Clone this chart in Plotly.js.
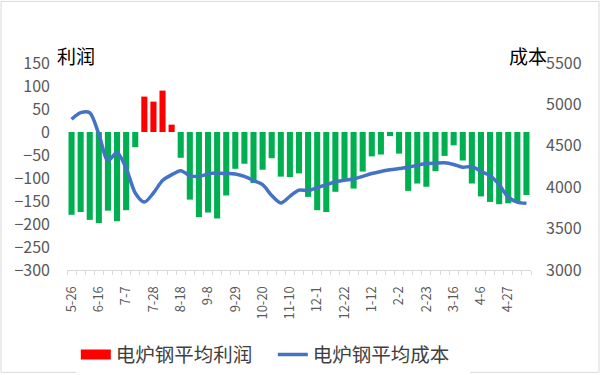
<!DOCTYPE html>
<html>
<head>
<meta charset="utf-8">
<script src="https://cdn.plot.ly/plotly-3.0.1.min.js"></script>
<style>
html,body{margin:0;padding:0;background:#fff;}
#chart{width:601px;height:375px;}
</style>
</head>
<body>
<div id="chart"></div>
<script>
// Weekly dates (category labels)
const dates = ["5-26","6-2","6-9","6-16","6-23","6-30","7-7","7-14","7-21","7-28",
  "8-4","8-11","8-18","8-25","9-1","9-8","9-15","9-22","9-29","10-6",
  "10-13","10-20","10-27","11-3","11-10","11-17","11-24","12-1","12-8","12-15",
  "12-22","12-29","1-5","1-12","1-19","1-26","2-2","2-9","2-16","2-23",
  "3-2","3-9","3-16","3-23","3-30","4-6","4-13","4-20","4-27","5-4","5-11"];

// 电炉钢平均利润 (left axis)
const profit = [-180,-174,-191,-198,-171,-194,-170,-33,77,66,
  90,16,-56,-147,-185,-175,-188,-138,-80,-69,
  -111,-82,-57,-97,-98,-90,-141,-170,-174,-130,
  -102,-123,-86,-53,-49,-9,-47,-128,-112,-119,
  -85,-52,-29,-62,-112,-140,-152,-157,-155,-154,-137];

// 电炉钢平均成本 (right axis)
const cost = [4820,4900,4900,4640,4320,4420,4230,3930,3820,3930,
  4080,4150,4200,4140,4130,4160,4170,4165,4160,4130,
  4080,4030,3900,3810,3890,3965,3960,3995,4030,4065,
  4085,4100,4130,4165,4190,4210,4225,4240,4265,4285,
  4290,4295,4275,4240,4250,4190,4140,4030,3880,3820,3805];

const seriesNames = ["电炉钢平均利润","电炉钢平均成本"];
const axisTitles = ["利润","成本"];

const idx = dates.map((d,i)=>i);
const tickIdx = idx.filter(i => i % 3 === 0 && i <= 48);
const tickText = tickIdx.map(i => dates[i]);

const FONT = '"Noto Sans CJK SC", "Noto Sans", sans-serif';
const GRAY = '#595959';

const traces = [
  {
    type:'bar', name: seriesNames[0], x: idx,
    y: profit.map(v => v >= 0 ? v : null), legendgroup:'profit',
    marker:{color:'#FF0000'}, showlegend:false, hoverinfo:'skip'
  },
  {
    type:'bar', name: seriesNames[0], x: idx, legendgroup:'profit',
    y: profit.map(v => v < 0 ? v : null),
    marker:{color:'#00B050'}, showlegend:false, hoverinfo:'skip'
  },
  // legend key for the profit bars (Excel-style wide red key)
  {
    type:'scatter', mode:'lines', name: seriesNames[0], legendgroup:'profit',
    x:[null], y:[null], line:{color:'#FF0000', width:10}, showlegend:true, hoverinfo:'skip'
  },
  {
    type:'scatter', mode:'lines', name: seriesNames[1], x: idx, y: cost,
    yaxis:'y2', line:{color:'#4472C4', width:3.5, shape:'spline', smoothing:0.8},
    hoverinfo:'skip'
  }
];

const layout = {
  width:601, height:375,
  margin:{l:67, r:70, t:63, b:105, autoexpand:false},
  paper_bgcolor:'#fff', plot_bgcolor:'#fff',
  font:{family:FONT, color:GRAY},
  barmode:'overlay', bargap:0.33,
  showlegend:true,
  legend:{
    orientation:'h', x:0.019, xanchor:'left', y:-0.41, yanchor:'middle',
    font:{family:FONT, size:19.5, color:'#404040'},
    entrywidthmode:'pixels', entrywidth:152, traceorder:'normal',
    itemclick:false
  },
  xaxis:{
    range:[-0.5, dates.length - 0.5],
    tickmode:'array', tickvals:tickIdx, ticktext:tickText,
    tickangle:-90, ticks:'', showgrid:false, zeroline:false,
    showline:true, linecolor:'#D9D9D9', linewidth:1,
    tickfont:{family:FONT, size:13, color:GRAY},
    ticklabelstandoff:10, automargin:false,
    minor:{tickmode:'linear', tick0:-0.5, dtick:1, ticks:'outside', ticklen:4, tickcolor:'#D9D9D9', showgrid:false},
    anchor:'y', fixedrange:true
  },
  yaxis:{
    range:[-300,150], dtick:50, tick0:0, showgrid:false, zeroline:false,
    showline:false, ticks:'', tickfont:{family:FONT, size:16, color:GRAY},
    ticklabelstandoff:16, automargin:false, fixedrange:true
  },
  yaxis2:{
    range:[3000,5500], dtick:500, tick0:3000, overlaying:'y', side:'right',
    showgrid:false, zeroline:false, showline:false, ticks:'',
    tickfont:{family:FONT, size:16, color:GRAY}, ticklabelstandoff:14,
    automargin:false, fixedrange:true
  },
  annotations:[
    {text:axisTitles[0], xref:'paper', yref:'paper', x:-0.026, y:1.035, xanchor:'left', yanchor:'middle',
     showarrow:false, font:{family:FONT, size:19, color:'#000'}},
    {text:axisTitles[1], xref:'paper', yref:'paper', x:0.948, y:1.035, xanchor:'left', yanchor:'middle',
     showarrow:false, font:{family:FONT, size:19, color:'#000'}}
  ],
  shapes:[
    {type:'rect', xref:'paper', yref:'paper', x0:-0.1422, x1:1.1466, y0:-0.4945, y1:1.2977,
     line:{color:'#D9D9D9', width:1}, fillcolor:'rgba(0,0,0,0)', layer:'below'}
  ]
};

Plotly.newPlot('chart', traces, layout, {displayModeBar:false, staticPlot:true});
</script>
</body>
</html>
